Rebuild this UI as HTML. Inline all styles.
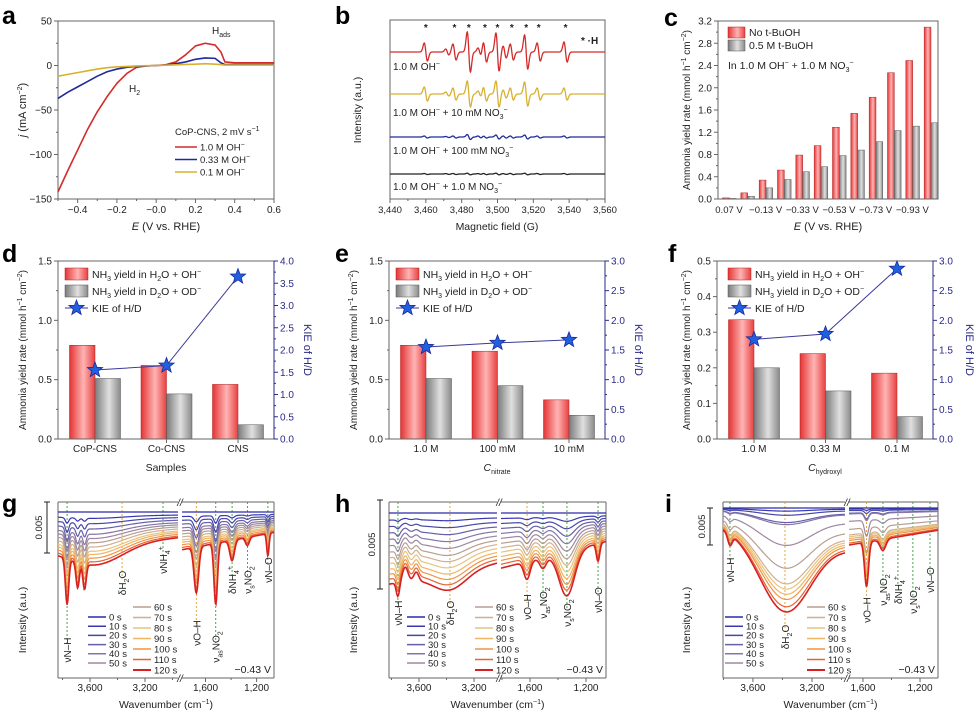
<!DOCTYPE html>
<html><head><meta charset="utf-8">
<style>html,body{margin:0;padding:0;background:#fff}svg{display:block;font-family:"Liberation Sans",Arial,sans-serif}</style>
</head><body>
<svg id="fig" width="976" height="714" viewBox="0 0 976 714">
<defs>
<linearGradient id="redGrad" x1="0" x2="1" y1="0" y2="0"><stop offset="0" stop-color="#e43434"/><stop offset="0.55" stop-color="#ffb4b4"/><stop offset="1" stop-color="#e84040"/></linearGradient>
<linearGradient id="grayGrad" x1="0" x2="1" y1="0" y2="0"><stop offset="0" stop-color="#7a7a7a"/><stop offset="0.55" stop-color="#e0e0e0"/><stop offset="1" stop-color="#8a8a8a"/></linearGradient>
</defs>
</svg>
<script>
// ---------- DATA ----------
const aE=[-0.5,-0.45,-0.4,-0.35,-0.3,-0.25,-0.2,-0.15,-0.1,-0.05,0,0.05,0.1,0.15,0.2,0.25,0.3,0.33,0.35,0.4,0.5,0.6];
const aJ10=[-142,-118,-95,-72,-52,-35,-20,-9,-2,-0.5,0,1,4,12,22,25,23,15,4,3,3,3];
const aJ033=[-37,-30,-24,-18,-12,-7,-4,-2,-1,-0.5,0,0.5,2,4,7,8.5,8,3,1,1,1,1];
const aJ01=[-12,-10,-8,-6,-4,-2.5,-1.5,-1,-0.5,-0.2,0,0.3,0.8,1.2,1.5,2,1.5,1,0.5,0.5,0.5,0.5];

const bLines=[3460,3472,3476,3484,3490,3493,3500,3504,3508,3516,3523,3538];
const bAmpRed=[9,3,8,20,4,10,19,6,8,17,9,10];
const bAmpYellow=[7,2,6,13,3,7,13,4,6,12,6,6];
const bAmpBlue=[1,0.5,1,2.5,1,1,2,1,1,2,1,1];
const bAmpBlack=[0.5,0.4,0.5,0.8,0.4,0.6,0.8,0.4,0.6,0.8,0.5,0.5];
const bStars=[3460,3476,3484,3493,3500,3508,3516,3523,3538];

const cLabels=['0.07 V','','−0.13 V','','−0.33 V','','−0.53 V','','−0.73 V','','−0.93 V',''];
const cRed=[0.02,0.11,0.34,0.52,0.79,0.96,1.29,1.54,1.83,2.27,2.49,3.09];
const cGray=[0.01,0.05,0.2,0.35,0.49,0.58,0.78,0.88,1.03,1.23,1.31,1.37];

const dCats=['CoP-CNS','Co-CNS','CNS'];
const dRed=[0.79,0.62,0.46];
const dGray=[0.51,0.38,0.12];
const dKie=[1.55,1.65,3.65];
const eCats=['1.0 M','100 mM','10 mM'];
const eRed=[0.79,0.74,0.33];
const eGray=[0.51,0.45,0.2];
const eKie=[1.55,1.62,1.67];
const fCats=['1.0 M','0.33 M','0.1 M'];
const fRed=[0.335,0.24,0.185];
const fGray=[0.2,0.135,0.063];
const fKie=[1.68,1.77,2.87];

const specTimes=[0,10,20,30,40,50,60,70,80,90,100,110,120];
const gGrowth=[0,0.12,0.22,0.32,0.42,0.5,0.58,0.66,0.74,0.8,0.87,0.94,1.0];
const gLeftOffset=[3.5,2.5];
const gLeftPos=[3767,3690,3640,3560];
const gLeftDepth=[4.5,2.5,2.5,2];
const gLeftWidth=[12,12,12,200];
const gRightOffset=[3.7,2.0];
const gRightPos=[1672,1520,1392,1272,1112];
const gRightDepth=[4.5,6,2,0.8,2.2];
const gRightWidth=[18,14,18,15,9];

const hGrowth=[0,0.1,0.19,0.28,0.37,0.46,0.55,0.63,0.71,0.79,0.86,0.93,1.0];
const hLeftOffset=[4.0,2.8];
const hLeftPos=[3753,3700,3620,3375];
const hLeftDepth=[0.8,-0.8,-0.5,1.0];
const hLeftWidth=[12,20,18,120];
const hRightOffset=[3.1,1.6];
const hRightPos=[1621,1507,1336,1114];
const hRightDepth=[1.0,0.6,2.5,1.0];
const hRightWidth=[22,22,55,12];

const iGrowth=[0,0.03,0.07,0.14,0.16,0.36,0.58,0.73,0.78,0.83,0.88,0.95,1.0];
const iLeftOffset=[2.5,5.5];
const iLeftPos=[3756,3383];
const iLeftDepth=[1.5,10];
const iLeftWidth=[15,170];
const iRightOffset=[5,3];
const iRightPos=[1575,1460];
const iRightDepth=[6,1.5];
const iRightWidth=[14,20];

// ---------- HELPERS ----------
const NS='http://www.w3.org/2000/svg';
const svg=document.getElementById('fig');
function mk(tag,at,parent){const e=document.createElementNS(NS,tag);for(const k in at)e.setAttribute(k,at[k]);(parent||svg).appendChild(e);return e;}
function txt(x,y,s,at,parent){const e=mk('text',Object.assign({x:x,y:y,'font-size':10,fill:'#222'},at||{}),parent);e.innerHTML=s;return e;}
function lin(d0,d1,r0,r1){return v=>r0+(v-d0)*(r1-r0)/(d1-d0);}
function fmt(v,d){return v.toFixed(d).replace('-','−');}
const sub=(s)=>'<tspan baseline-shift="-2.5" font-size="7">'+s+'</tspan>';
const sup=(s)=>'<tspan baseline-shift="4" font-size="7">'+s+'</tspan>';
const ylabelYield='Ammonia yield rate (mmol h'+sup('−1')+' cm'+sup('−2')+')';

function letter(x,y,s){const t=txt(x,y,s,{'font-size':25,'font-weight':'bold',fill:'#000'});

}

// ---------- PANEL A ----------
letter(2,24,'a');
{
const g=mk('g',{});


const xa=lin(-0.5,0.6,58,274), ya=lin(-150,50,199,21);
const fr=mk('rect',{x:58,y:21,width:216,height:178,fill:'none',stroke:'#666'},g);


for(let v=-0.5;v<=0.601;v+=0.1){const big=Math.abs(Math.round(v*10)%2)===0;mk('line',{x1:xa(v),x2:xa(v),y1:199,y2:big?203:201,stroke:'#666'},g);
 if(big&&v>-0.45){const t=txt(xa(v),213,fmt(v,1),{'text-anchor':'middle'},g);}}
for(let v=-150;v<=50;v+=25){const big=v%50===0;mk('line',{x1:58,x2:big?54:56,y1:ya(v),y2:ya(v),stroke:'#666'},g);
 if(big){const t=txt(52,ya(v)+3.5,fmt(v,0),{'text-anchor':'end'},g);}}
const series=[[aJ10,'#d42a2a','1.0 M OH'],[aJ033,'#1f2a9a','0.33 M OH'],[aJ01,'#d8b030','0.1 M OH']];
series.forEach((s,k)=>{
 const p=mk('polyline',{points:aE.map((e,i)=>xa(e)+','+ya(s[0][i])).join(' '),fill:'none',stroke:s[1],'stroke-width':1.6,'stroke-linejoin':'round'},g);
 
 
 const ly=147+k*12.5;
 mk('line',{x1:175,x2:197,y1:ly,y2:ly,stroke:s[1],'stroke-width':1.6},g);
 const t=txt(200,ly+3.5,s[2]+sup('−'),{'font-size':9.5},g);
 
 
});
txt(175,135,'CoP-CNS, 2 mV s'+sup('−1'),{'font-size':9.5},g);
txt(212,34,'H'+sub('ads'),{'font-size':10},g);
txt(129,92,'H'+sub('2'),{'font-size':10},g);
const xt=txt(166,230,'<tspan font-style="italic">E</tspan> (V vs. RHE)',{'text-anchor':'middle','font-size':11},g);


const yt=txt(26,110,'<tspan font-style="italic">j</tspan> (mA cm'+sup('−2')+')',{'text-anchor':'middle','font-size':11,transform:'rotate(-90,26,110)'},g);


}

// ---------- PANEL B ----------
letter(335,24,'b');
{
const g=mk('g',{});


const xb=lin(3440,3560,390,605);
const fr=mk('rect',{x:390,y:20,width:215,height:179,fill:'none',stroke:'#666'},g);


for(let v=3440;v<=3560;v+=10){const big=v%20===0;mk('line',{x1:xb(v),x2:xb(v),y1:199,y2:big?203:201,stroke:'#666'},g);
 if(big){const t=txt(xb(v),213,v.toLocaleString('en-US'),{'text-anchor':'middle','font-size':9.5},g);}}
const traces=[[bAmpRed,'#d42a2a',52,'1.0 M OH'+sup('−'),70],[bAmpYellow,'#d8b030',94,'1.0 M OH'+sup('−')+' + 10 mM NO'+sub('3')+sup('−'),116],[bAmpBlue,'#1f2a9a',137,'1.0 M OH'+sup('−')+' + 100 mM NO'+sub('3')+sup('−'),154],[bAmpBlack,'#222',174,'1.0 M OH'+sup('−')+' + 1.0 M NO'+sub('3')+sup('−'),190]];
const w=0.9;
traces.forEach((tr,k)=>{
 const pts=[];
 for(let px=390;px<=605;px+=0.25){const f=3440+(px-390)*120/215;let y=tr[2];
  bLines.forEach((c,j)=>{const u=(f-c)/w;y-=tr[0][j]*(-u)*Math.exp(0.5-u*u/2);});
  pts.push(px.toFixed(2)+','+y.toFixed(2));}
 const p=mk('polyline',{points:pts.join(' '),fill:'none',stroke:tr[1],'stroke-width':1.3},g);
 
 
 const t=txt(393,tr[4],tr[3],{'font-size':10},g);
 
 
});
bStars.forEach(s=>{const t=txt(xb(s),31,'*',{'text-anchor':'middle','font-size':10,'font-weight':'bold'},g);
 
 });
txt(581,44,'* ·H',{'font-size':10,'font-weight':'bold'},g);
const xt=txt(497,230,'Magnetic field (G)',{'text-anchor':'middle','font-size':10.5},g);


const yt=txt(361,110,'Intensity (a.u.)',{'text-anchor':'middle','font-size':10.5,transform:'rotate(-90,361,110)'},g);


}

// ---------- PANEL C ----------
letter(664,26,'c');
{
const g=mk('g',{});


const yc=lin(0,3.2,199,21);
const gw=220/12;
for(let v=0;v<=3.201;v+=0.2){const big=Math.round(v*10)%4===0;mk('line',{x1:718,x2:big?714:716,y1:yc(v),y2:yc(v),stroke:'#666'},g);
 if(big){const t=txt(712,yc(v)+3.5,fmt(v,1),{'text-anchor':'end'},g);}}
cRed.forEach((v,i)=>{
 const x=718+i*gw+4.5;
 const r=mk('rect',{x:x,y:yc(v),width:6.8,height:199-yc(v),fill:'url(#redGrad)',stroke:'#b02020','stroke-width':0.5},g);
 
 
 const q=mk('rect',{x:x+6.8,y:yc(cGray[i]),width:6.8,height:199-yc(cGray[i]),fill:'url(#grayGrad)',stroke:'#555','stroke-width':0.5},g);
 
 
 if(cLabels[i]){const t=txt(718+i*gw+11,213,cLabels[i],{'text-anchor':'middle','font-size':9.5},g);}
});
const fr=mk('rect',{x:718,y:21,width:220,height:178,fill:'none',stroke:'#666'},g);


mk('rect',{x:728,y:27,width:17,height:11,fill:'url(#redGrad)',stroke:'#b02020','stroke-width':0.5},g);
const l1=txt(749,36,'No t-BuOH',{'font-size':10.5},g);


mk('rect',{x:728,y:40,width:17,height:11,fill:'url(#grayGrad)',stroke:'#555','stroke-width':0.5},g);
const l2=txt(749,49,'0.5 M t-BuOH',{'font-size':10.5},g);


txt(728,69,'In 1.0 M OH'+sup('−')+' + 1.0 M NO'+sub('3')+sup('−'),{'font-size':10.5},g);
const xt=txt(828,230,'<tspan font-style="italic">E</tspan> (V vs. RHE)',{'text-anchor':'middle','font-size':11},g);


const yt=txt(690,110,ylabelYield,{'text-anchor':'middle','font-size':10,transform:'rotate(-90,690,110)'},g);


}

// ---------- PANELS D/E/F ----------
function starPts(cx,cy,R){const p=[];for(let k=0;k<10;k++){const r=k%2?R*0.42:R;const a=-Math.PI/2+k*Math.PI/5;p.push((cx+r*Math.cos(a)).toFixed(2)+','+(cy+r*Math.sin(a)).toFixed(2));}return p.join(' ');}
function barPanel(c){
 const g=mk('g',{});
 
 
 const x0=c.x0,x1=c.x0+216,yT=261,yB=439;
 const yl=lin(0,c.yMax,yB,yT), yr=lin(0,c.kMax,yB,yT);
 for(let v=0;v<=c.yMax+1e-6;v+=c.yStep/2){const big=Math.abs(v/c.yStep-Math.round(v/c.yStep))<1e-6;mk('line',{x1:x0,x2:big?x0-4:x0-2,y1:yl(v),y2:yl(v),stroke:'#666'},g);
  if(big){const t=txt(x0-6,yl(v)+3.5,fmt(v,1),{'text-anchor':'end'},g);}}
 for(let v=0;v<=c.kMax+1e-6;v+=0.25){const big=Math.abs(v*2-Math.round(v*2))<1e-6;mk('line',{x1:x1,x2:big?x1+4:x1+2,y1:yr(v),y2:yr(v),stroke:'#2a2a8a'},g);
  if(big){const t=txt(x1+6,yr(v)+3.5,fmt(v,1),{fill:'#2a2a8a'},g);}}
 const pts=[];
 c.cats.forEach((cat,i)=>{
  const cx=x0+37+i*71.5;
  const r=mk('rect',{x:cx-25.5,y:yl(c.red[i]),width:25.5,height:yB-yl(c.red[i]),fill:'url(#redGrad)',stroke:'#b02020','stroke-width':0.5},g);
  
  
  const q=mk('rect',{x:cx,y:yl(c.gray[i]),width:25.5,height:yB-yl(c.gray[i]),fill:'url(#grayGrad)',stroke:'#555','stroke-width':0.5},g);
  
  
  mk('line',{x1:cx,x2:cx,y1:yB,y2:yB+4,stroke:'#666'},g);
  const t=txt(cx,452,cat,{'text-anchor':'middle','font-size':10},g);
  
  
  pts.push([cx,yr(c.kie[i])]);
 });
 const kl=mk('polyline',{points:pts.map(p=>p.join(',')).join(' '),fill:'none',stroke:'#3a3a9a','stroke-width':1},g);
 
 
 pts.forEach(p=>{const s=mk('polygon',{points:starPts(p[0],p[1],8),fill:'#2060e0',stroke:'#1a2a9a','stroke-width':0.8},g);
  
  });
 mk('line',{x1:x0,x2:x1,y1:yB,y2:yB,stroke:'#666'},g);
 mk('line',{x1:x0,x2:x1,y1:yT,y2:yT,stroke:'#666'},g);
 mk('line',{x1:x0,x2:x0,y1:yT,y2:yB,stroke:'#666'},g);
 mk('line',{x1:x1,x2:x1,y1:yT,y2:yB,stroke:'#2a2a8a'},g);
 const lx=x0+c.legX;
 mk('rect',{x:lx,y:268,width:23,height:12,fill:'url(#redGrad)',stroke:'#b02020','stroke-width':0.5},g);
 const e1=txt(lx+27,278,'NH'+sub('3')+' yield in H'+sub('2')+'O + OH'+sup('−'),{'font-size':10.5},g);
 
 
 mk('rect',{x:lx,y:285,width:23,height:12,fill:'url(#grayGrad)',stroke:'#555','stroke-width':0.5},g);
 const e2=txt(lx+27,295,'NH'+sub('3')+' yield in D'+sub('2')+'O + OD'+sup('−'),{'font-size':10.5},g);
 
 
 mk('line',{x1:lx,x2:lx+23,y1:308,y2:308,stroke:'#3a3a9a'},g);
 mk('polygon',{points:starPts(lx+11.5,308,8),fill:'#2060e0',stroke:'#1a2a9a','stroke-width':0.8},g);
 const e3=txt(lx+27,312,'KIE of H/D',{'font-size':10.5},g);
 
 
 const xt=txt(x0+108,471,c.xtitle,{'text-anchor':'middle','font-size':10.5},g);
 
 
 const yt=txt(c.ylx,350,ylabelYield,{'text-anchor':'middle','font-size':10,transform:'rotate(-90,'+c.ylx+',350)'},g);
 
 
 const rx=c.rlx;
 const rt=txt(rx,350,'KIE of H/D',{'text-anchor':'middle','font-size':11,fill:'#2a2a8a',transform:'rotate(90,'+rx+',350)'},g);
 
 
}
letter(2,262,'d');
barPanel({name:'panel-d-samples-chart',x0:58,yMax:1.5,yStep:0.5,kMax:4,cats:dCats,red:dRed,gray:dGray,kie:dKie,xtitle:'Samples',ylx:26,rlx:304,legX:7});
letter(335,262,'e');
barPanel({name:'panel-e-nitrate-chart',x0:389,yMax:1.5,yStep:0.5,kMax:3,cats:eCats,red:eRed,gray:eGray,kie:eKie,xtitle:'<tspan font-style="italic">C</tspan>'+sub('nitrate'),ylx:357,rlx:635,legX:7});
letter(668,262,'f');
barPanel({name:'panel-f-hydroxyl-chart',x0:717,yMax:0.5,yStep:0.1,kMax:3,cats:fCats,red:fRed,gray:fGray,kie:fKie,xtitle:'<tspan font-style="italic">C</tspan>'+sub('hydroxyl'),ylx:690,rlx:966,legX:11});

// ---------- PANELS G/H/I ----------
const timeColors=['#2a2aa8','#3838b0','#4848a8','#6660a8','#8676a8','#9e88a0','#b89e92','#d0b090','#e6c47e','#f0b462','#f09446','#e66232','#d82020'];
function specPanel(c){
 const g=mk('g',{});
 
 
 const yT=502,yB=678;
 const xl=lin(c.L[0],c.L[1],c.x0,c.xb), xr=lin(c.R[0],c.R[1],c.xb+4,c.x1);
 const X=w=>w>2500?xl(w):xr(w);
 [[c.x0,c.xb],[c.xb+4,c.x1]].forEach(s=>{mk('line',{x1:s[0],x2:s[1],y1:yT,y2:yT,stroke:'#666'},g);mk('line',{x1:s[0],x2:s[1],y1:yB,y2:yB,stroke:'#666'},g);});
 mk('line',{x1:c.x0,x2:c.x0,y1:yT,y2:yB,stroke:'#666'},g);
 mk('line',{x1:c.x1,x2:c.x1,y1:yT,y2:yB,stroke:'#666'},g);
 txt(c.xb+2,yT+4,'//',{'text-anchor':'middle','font-size':10,'font-style':'italic'},g);
 txt(c.xb+2,yB+4,'//',{'text-anchor':'middle','font-size':10,'font-style':'italic'},g);
 [3800,3600,3400,3200,3000,1800,1600,1400,1200].forEach(w=>{
  const x=X(w);if(x<c.x0-0.5||x>c.x1+0.5)return;if(w>2500&&x>c.xb)return;if(w<2500&&x<c.xb+4)return;
  const big=(w===3600||w===3200||w===1600||w===1200);
  mk('line',{x1:x,x2:x,y1:yB,y2:yB+(big?4:2),stroke:'#666'},g);
  if(big){const t=txt(x,691,w.toLocaleString('en-US'),{'text-anchor':'middle','font-size':10},g);}
 });
 c.guides.forEach(gd=>{const x=X(gd[0]);
  const l=mk('line',{x1:x,x2:x,y1:yT,y2:gd[2]-4,stroke:gd[3],'stroke-width':0.9,'stroke-dasharray':'2,2'},g);
  
  
  const t=txt(x+4,gd[2],gd[1],{'text-anchor':'middle','font-size':10,transform:'rotate(-90,'+(x+4)+','+gd[2]+')'},g);
  
  });
 specTimes.forEach((tm,k)=>{
  const gr=c.growth[k];
  [[c.L,c.lOff,c.lPos,c.lDep,c.lW],[c.R,c.rOff,c.rPos,c.rDep,c.rW]].forEach((seg,si)=>{
   const pts=[];const n=160;
   for(let j=0;j<=n;j++){const w=seg[0][0]+(seg[0][1]-seg[0][0])*j/n;
    let a=seg[1][0]+(seg[1][1]-seg[1][0])*j/n;
    seg[2].forEach((p,q)=>{const u=(w-p)/seg[4][q];a+=seg[3][q]*Math.exp(-u*u/2);});
    pts.push(X(w).toFixed(2)+','+(c.top+a*gr*c.scale).toFixed(2));}
   const p=mk('polyline',{points:pts.join(' '),fill:'none',stroke:timeColors[k],'stroke-width':k===12?1.6:1.2},g);
   
   
  });
 });
 specTimes.forEach((tm,k)=>{
  const col=k<6?0:1;const row=k<6?k:k-6;
  const lx=col?c.lg2:c.lg1;const ly=col?607+row*10.5:617+row*9.2;
  mk('line',{x1:lx,x2:lx+18,y1:ly,y2:ly,stroke:timeColors[k],'stroke-width':k===12?2:1.5},g);
  const t=txt(lx+21,ly+3.3,tm+' s',{'font-size':9.5},g);
  
  
 });
 txt(c.x1-3,673,'−0.43 V',{'text-anchor':'end','font-size':10.5},g);
 mk('line',{x1:c.sbx,x2:c.sbx,y1:c.sb[0],y2:c.sb[1],stroke:'#222'},g);
 mk('line',{x1:c.sbx-3,x2:c.sbx+3,y1:c.sb[0],y2:c.sb[0],stroke:'#222'},g);
 mk('line',{x1:c.sbx-3,x2:c.sbx+3,y1:c.sb[1],y2:c.sb[1],stroke:'#222'},g);
 const sy=(c.sb[0]+c.sb[1])/2;
 const sl=txt(c.sbx-5,sy,'0.005',{'text-anchor':'middle','font-size':9.5,transform:'rotate(-90,'+(c.sbx-5)+','+sy+')'},g);
 
 
 const yt=txt(c.ylx,620,'Intensity (a.u.)',{'text-anchor':'middle','font-size':10.5,transform:'rotate(-90,'+c.ylx+',620)'},g);
 
 
 const xt=txt((c.x0+c.x1)/2,708,'Wavenumber (cm'+sup('−1')+')',{'text-anchor':'middle','font-size':10.5},g);
 
 
}
const G='#3a9a3a',O='#e0a030';
const nuNH='νN–H',dH2O='δH'+sub('2')+'O',nuOH='νO–H',nuAs='ν'+sub('as')+'NO'+sub('2'),nuS='ν'+sub('s')+'NO'+sub('2'),dNH4='δNH'+sub('4')+sup('+'),nuNH4='νNH'+sub('4')+sup('+'),nuNO='νN–O';
letter(2,512,'g');
specPanel({name:'panel-g-ir-spectra',x0:58,xb:178,x1:274,L:[3833,2960],R:[1784,1064],top:512,scale:10.2,growth:gGrowth,
 lOff:gLeftOffset,lPos:gLeftPos,lDep:gLeftDepth,lW:gLeftWidth,rOff:gRightOffset,rPos:gRightPos,rDep:gRightDepth,rW:gRightWidth,
 guides:[[3767,nuNH,650,G],[3367,dH2O,583,O],[3069,nuNH4,560,G],[1672,nuOH,633,O],[1520,nuAs,647,G],[1392,dNH4,580,G],[1272,nuS,580,G],[1112,nuNO,570,G]],
 lg1:88,lg2:133,sbx:47,sb:[502,553],ylx:26});
letter(335,512,'h');
specPanel({name:'panel-h-ir-spectra',x0:389,xb:497,x1:606,L:[3818,3033],R:[1807,1057],top:513,scale:17.8,growth:hGrowth,
 lOff:hLeftOffset,lPos:hLeftPos,lDep:hLeftDepth,lW:hLeftWidth,rOff:hRightOffset,rPos:hRightPos,rDep:hRightDepth,rW:hRightWidth,
 guides:[[3753,nuNH,613,G],[3375,dH2O,613,O],[1621,nuOH,607,O],[1507,nuAs,603,G],[1336,nuS,613,G],[1114,nuNO,600,G]],
 lg1:407,lg2:475,sbx:380,sb:[500,589],ylx:357});
letter(665,512,'i');
specPanel({name:'panel-i-ir-spectra',x0:723,xb:845,x1:938,L:[3803,2976],R:[1698,1074],top:508,scale:7.4,growth:iGrowth,
 lOff:iLeftOffset,lPos:iLeftPos,lDep:iLeftDepth,lW:iLeftWidth,rOff:iRightOffset,rPos:iRightPos,rDep:iRightDepth,rW:iRightWidth,
 guides:[[3756,nuNH,570,G],[3383,dH2O,637,O],[1575,nuOH,610,O],[1460,nuAs,590,G],[1355,dNH4,590,G],[1250,nuS,600,G],[1130,nuNO,580,G]],
 lg1:725,lg2:807,sbx:710,sb:[508,545],ylx:690});
</script>
</body></html>
